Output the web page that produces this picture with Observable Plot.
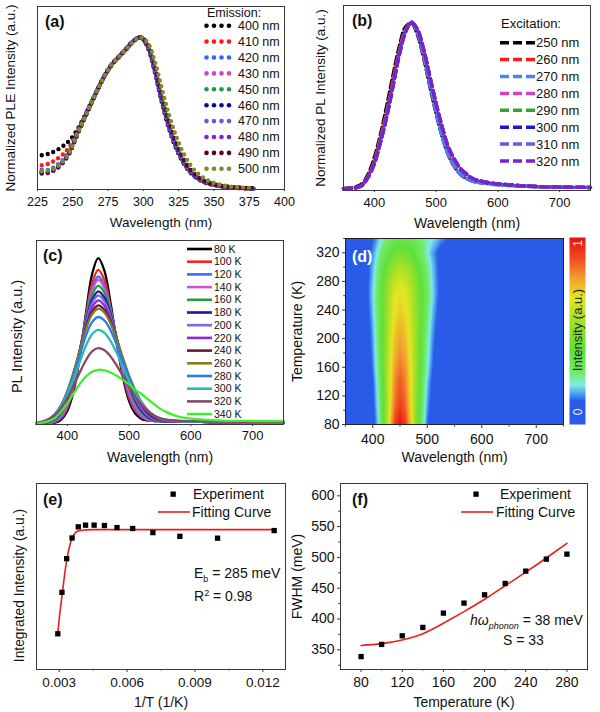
<!DOCTYPE html>
<html><head><meta charset="utf-8">
<script src="https://cdn.jsdelivr.net/npm/d3@7"></script>
<script src="https://cdn.jsdelivr.net/npm/@observablehq/plot@0.6"></script>
<style>
body{margin:0;background:#fff;}
#root{position:relative;width:600px;height:712px;overflow:hidden;background:#fff;}
.panel{position:absolute;}
.panel svg{overflow:visible;display:block;}
</style></head><body><div id="root"></div>
<script>
// ---------- (a) PLE spectra ----------
const pleWavelength = [228,233,238,243,248,253,258,263,268,273,278,283,288,293,298,303,308,313,318,323,328,333,338,343,348,353,358,363,368,373,378];
const pleLabels = ["400 nm","410 nm","420 nm","430 nm","450 nm","460 nm","470 nm","480 nm","490 nm","500 nm"];
const ple400 = [.22,.23,.25,.28,.32,.385,.47,.565,.66,.75,.82,.87,.92,.97,.995,.93,.77,.57,.40,.27,.175,.11,.068,.043,.028,.019,.012,.008,.005,.003,.001];
const ple410 = [.155,.165,.19,.225,.28,.37,.465,.56,.66,.75,.82,.87,.92,.97,.995,.935,.775,.575,.405,.275,.178,.113,.07,.045,.029,.02,.013,.008,.005,.003,.001];
const ple420 = [.125,.125,.15,.19,.255,.36,.46,.56,.66,.75,.82,.87,.92,.97,.995,.94,.785,.585,.415,.282,.183,.116,.073,.046,.03,.02,.013,.009,.005,.003,.001];
const ple430 = [.11,.11,.135,.175,.245,.355,.458,.56,.66,.75,.82,.87,.92,.97,.995,.94,.79,.59,.42,.285,.185,.118,.074,.047,.031,.021,.014,.009,.005,.003,.001];
const ple450 = [.115,.12,.14,.18,.25,.36,.46,.56,.66,.75,.82,.87,.92,.97,.995,.945,.80,.60,.43,.292,.19,.122,.077,.049,.032,.022,.014,.009,.006,.003,.001];
const ple460 = [.105,.11,.13,.175,.245,.355,.458,.56,.66,.75,.82,.87,.92,.97,.995,.94,.79,.59,.42,.285,.185,.118,.074,.047,.031,.021,.014,.009,.005,.003,.001];
const ple470 = [.10,.105,.13,.172,.24,.352,.456,.56,.66,.75,.82,.87,.92,.97,.995,.942,.795,.595,.425,.288,.187,.12,.075,.048,.031,.021,.014,.009,.005,.003,.001];
const ple480 = [.10,.105,.128,.17,.24,.352,.456,.56,.66,.75,.82,.87,.92,.97,.995,.942,.795,.598,.428,.29,.189,.121,.076,.048,.032,.021,.014,.009,.006,.003,.001];
const ple490 = [.105,.11,.13,.173,.243,.354,.457,.56,.66,.75,.82,.87,.92,.97,.995,.95,.81,.62,.45,.31,.205,.13,.082,.052,.034,.023,.015,.01,.007,.005,.004];
const ple500 = [.115,.12,.138,.178,.245,.355,.458,.56,.66,.75,.82,.87,.92,.968,.995,.96,.84,.66,.49,.35,.24,.16,.105,.07,.045,.03,.02,.013,.008,.005,.003];
const pleTicks = [225,250,275,300,325,350,375,400];

// ---------- (b) PL spectra vs excitation ----------
const plWavelength = [350,360,370,380,390,400,410,420,430,440,450,460,470,480,490,500,510,520,530,540,550,560,580,600,620,650,700,750];
const exLabels = ["250 nm","260 nm","270 nm","280 nm","290 nm","300 nm","310 nm","320 nm"];
const ex250 = [.002,.005,.012,.03,.09,.19,.33,.50,.68,.85,.97,.995,.92,.78,.61,.45,.31,.20,.13,.085,.06,.045,.033,.025,.02,.015,.01,.008];
const ex260 = [.001,.004,.009,.025,.08,.17,.31,.47,.65,.825,.955,1.0,.93,.79,.62,.46,.315,.205,.135,.09,.065,.048,.035,.027,.021,.015,.01,.008];
const ex270 = [.001,.003,.007,.022,.075,.16,.295,.45,.63,.81,.945,1.0,.935,.795,.625,.46,.31,.20,.13,.085,.06,.045,.032,.024,.019,.014,.01,.008];
const ex280 = [0,.003,.006,.02,.072,.155,.285,.44,.62,.80,.94,1.0,.952,.83,.668,.506,.364,.246,.172,.118,.085,.06,.04,.03,.024,.016,.01,.008];
const ex290 = [0,.003,.006,.02,.071,.152,.282,.435,.615,.798,.937,1.0,.954,.833,.671,.51,.367,.248,.174,.119,.086,.06,.04,.03,.024,.016,.01,.008];
const ex300 = [0,.003,.006,.021,.072,.153,.283,.436,.616,.80,.938,1.0,.953,.832,.67,.508,.365,.247,.173,.118,.085,.06,.04,.03,.024,.016,.01,.008];
const ex310 = [0,.003,.006,.02,.07,.151,.281,.432,.612,.797,.936,1.0,.955,.834,.673,.512,.369,.249,.175,.12,.087,.06,.04,.03,.024,.016,.01,.008];
const ex320 = [0,.003,.006,.02,.07,.15,.28,.43,.61,.795,.935,1.0,.955,.835,.674,.513,.37,.25,.175,.12,.087,.06,.04,.03,.024,.016,.01,.008];
const plTicks = [400,500,600,700];

// ---------- (c) temperature-dependent PL ----------
const tWavelength = [350,360,370,380,390,400,410,420,430,440,450,460,470,480,490,500,510,520,530,540,550,560,580,600,650,700,750];
const tempLabels = ["80 K","100 K","120 K","140 K","160 K","180 K","200 K","220 K","240 K","260 K","280 K","300 K","320 K","340 K"];
const temperatures = [80,100,120,140,160,180,200,220,240,260,280,300,320,340];
const pl80K  = [0,0,.002,.007,.026,.079,.197,.401,.666,.903,1.0,.924,.728,.49,.281,.137,.062,.03,.02,.017,.016,.015,.014,.013,.01,.008,.007];
const pl100K = [0,.001,.003,.011,.034,.095,.216,.409,.645,.849,.93,.867,.701,.492,.30,.159,.078,.039,.023,.018,.016,.015,.014,.013,.01,.008,.007];
const pl120K = [0,.001,.004,.014,.042,.107,.230,.416,.635,.818,.89,.834,.687,.498,.316,.176,.092,.045,.025,.018,.016,.015,.014,.013,.01,.008,.007];
const pl140K = [0,.002,.005,.018,.050,.119,.244,.426,.633,.804,.87,.819,.684,.505,.331,.193,.104,.052,.027,.019,.016,.015,.014,.013,.01,.008,.007];
const pl160K = [.001,.003,.009,.025,.064,.141,.267,.440,.628,.777,.835,.792,.676,.518,.357,.222,.128,.068,.036,.02,.016,.015,.014,.013,.01,.008,.007];
const pl180K = [.001,.004,.012,.031,.074,.153,.278,.442,.614,.749,.80,.762,.658,.515,.366,.236,.142,.08,.042,.023,.017,.015,.014,.013,.01,.008,.007];
const pl200K = [.001,.005,.015,.037,.083,.164,.288,.443,.605,.729,.775,.740,.646,.514,.374,.248,.154,.09,.049,.027,.018,.016,.014,.013,.01,.008,.007];
const pl220K = [.002,.007,.018,.043,.092,.174,.294,.441,.590,.703,.745,.714,.630,.512,.382,.262,.169,.102,.058,.033,.02,.017,.015,.013,.01,.008,.007];
const pl240K = [.003,.009,.023,.052,.104,.188,.305,.442,.578,.678,.715,.689,.614,.508,.390,.277,.186,.118,.07,.04,.025,.019,.015,.013,.01,.008,.007];
const pl260K = [.004,.012,.028,.060,.115,.199,.312,.443,.569,.661,.695,.671,.605,.508,.398,.291,.203,.132,.082,.049,.03,.022,.016,.014,.011,.009,.008];
const pl280K = [.004,.012,.028,.059,.111,.190,.295,.415,.531,.614,.645,.624,.564,.477,.377,.279,.197,.13,.082,.05,.031,.022,.016,.014,.011,.009,.008];
const pl300K = [.005,.013,.029,.058,.107,.177,.270,.373,.471,.541,.567,.549,.500,.427,.342,.257,.186,.127,.082,.052,.033,.024,.017,.015,.012,.01,.009];
const pl320K = [.006,.014,.029,.055,.096,.155,.229,.310,.384,.438,.457,.444,.407,.352,.287,.221,.165,.116,.078,.051,.034,.026,.019,.016,.013,.011,.01];
const pl340K = [.003,.008,.016,.035,.075,.125,.182,.24,.285,.314,.326,.323,.31,.29,.265,.238,.205,.18,.15,.12,.092,.072,.043,.031,.02,.017,.016];

// ---------- (d) map axes ----------
const mapTempTicks = [80,120,160,200,240,280,320];
const mapTempMinor = [100,140,180,220,260,300,340];
const mapWlMinor = [350,450,550,650,750];

// ---------- (e) integrated intensity ----------
const eTemps = [340,320,300,280,260,240,220,200,180,160,140,120,100,80];
const eIntensity = [0.192,0.415,0.596,0.707,0.767,0.776,0.776,0.774,0.763,0.758,0.736,0.716,0.706,0.747];
const eFitInvT = [0.00294,0.0030,0.0031,0.0032,0.0033,0.0034,0.0035,0.0036,0.0037,0.0038,0.0040,0.0045,0.0060,0.0125];
const eFitIntensity = [0.19,0.27,0.37,0.47,0.56,0.63,0.68,0.714,0.733,0.743,0.749,0.752,0.752,0.752];
const eTicks = [0.003,0.006,0.009,0.012];
const eMinor = [0.0045,0.0075,0.0105];

// ---------- (f) FWHM ----------
const fTemps = [80,100,120,140,160,180,200,220,240,260,280];
const fFWHM = [339,358.7,372.7,386.3,409.5,425.8,439.3,457.7,477.7,497.2,505.3];
const fFitT = [80,100,120,140,160,180,200,220,240,260,280];
const fFitFWHM = [357,360,366,376,393,412,432,454,476,499,523];
const fXTicks = [80,120,160,200,240,280];
const fXMinor = [100,140,180,220,260,300];
const fYTicks = [350,400,450,500,550,600];
const fYMinor = [325,375,425,475,525,575];

// ---------- styles ----------
const FONT = '"Liberation Sans", Arial, Helvetica, sans-serif';
const pleColors = ["#000000","#ff1a1a","#3366ff","#cc44cc","#229944","#0a0a9a","#6655dd","#7a22dd","#600020","#7f8a2a"];
const exColors = ["#000000","#ff1a1a","#4a80ff","#cc44cc","#2aaa2a","#1a1acc","#6a5add","#7a22cc"];
const tempColors = ["#000000","#ff2020","#3a6cf5","#cc55cc","#2a9a3a","#1a1a9a","#7a6ae8","#8a2ad8","#6a1838","#808020","#2a7af0","#30b8b0","#8a4868","#40ee30"];
const heatStops = [0, 0.125, 0.165, 0.21, 0.28, 0.4, 0.55, 0.68, 0.78, 0.88, 1];
const heatColors = ["#2a5ae8","#2a5ae8","#4aa2f2","#80eaea","#72ea62","#5ee03a","#a2e028","#e6e622","#f2a030","#f05020","#e81010"];
const FRAME = "#3a3a3a";

const root = document.getElementById("root");
function mount(svg, left, top) {
  const div = document.createElement("div");
  div.className = "panel";
  div.style.left = left + "px"; div.style.top = top + "px";
  div.appendChild(svg); root.appendChild(div);
  return d3.select(svg);
}
function txt(g, x, y, s, o = {}) {
  const t = g.append("text").attr("x", x).attr("y", y).attr("dy", "0.35em")
    .attr("font-family", FONT).attr("font-size", o.size || 13)
    .attr("fill", o.fill || "#111").attr("text-anchor", o.anchor || "start");
  if (o.weight) t.attr("font-weight", o.weight);
  if (o.rotate) t.attr("transform", `rotate(${o.rotate},${x},${y})`);
  if (s !== null) t.text(s);
  return t;
}
const base = {fontFamily: FONT, color: "#111", background: "transparent", overflow: "visible"};
function xAxis(major, minor, size, pad, fmt) {
  const m = [Plot.axisX(major, {tickSize: size, tickPadding: pad, label: null, stroke: FRAME, tickFormat: fmt})];
  if (minor.length) m.push(Plot.axisX(minor, {tickSize: Math.max(1.5, size - 1.5), tickFormat: () => "", label: null, stroke: FRAME}));
  return m;
}
function yAxis(major, minor) {
  return [
    Plot.axisY(major, {tickSize: 3, tickPadding: 3, label: null, stroke: FRAME}),
    Plot.axisY(minor, {tickSize: 1.8, tickFormat: () => "", label: null, stroke: FRAME})
  ];
}
function titleX(s, size) {
  return Plot.text([s], {text: d => d, frameAnchor: "bottom", dy: 33, fontSize: size, textAnchor: "middle", lineAnchor: "middle"});
}
function titleY(s, size, dx, dy = 0) {
  return Plot.text([s], {text: d => d, frameAnchor: "left", dx, dy, rotate: -90, fontSize: size, textAnchor: "middle", lineAnchor: "middle"});
}

// ===== Panel (a) =====
const pleSeries = [ple400,ple410,ple420,ple430,ple450,ple460,ple470,ple480,ple490,ple500];
const svgA = Plot.plot({
  width: 300, height: 235, marginLeft: 37, marginRight: 16, marginTop: 6, marginBottom: 46,
  style: {...base, fontSize: "12.5px"},
  x: {domain: [225, 400]}, y: {domain: [-0.005, 1.197], axis: null},
  marks: [
    ...pleSeries.map((vals, k) => Plot.line(pleWavelength.map((w, i) => ({w, v: vals[i]})), {x: "w", y: "v", stroke: pleColors[k], strokeWidth: 4.4, strokeLinecap: "round", strokeDasharray: "0,6", curve: "catmull-rom"})),
    Plot.frame({stroke: FRAME}),
    ...xAxis(pleTicks, [], 2, 5.5),
    titleX("Wavelength (nm)", 13.5),
    titleY("Normalized PLE Intensity (a.u.)", 13.5, -27)
  ]
});
const gA = mount(svgA, 0, 0).append("g");
txt(gA, 45, 21.5, "(a)", {size: 16, weight: "bold"});
txt(gA, 207, 12.7, "Emission:", {size: 12.5});
pleLabels.forEach((lab, i) => {
  const y = 25.7 + 15.9 * i;
  for (let k = 0; k < 4; k++) gA.append("circle").attr("cx", 206.5 + 7.5 * k).attr("cy", y).attr("r", 2.3).attr("fill", pleColors[i]);
  txt(gA, 238, y, lab, {size: 12.5});
});

// ===== Panel (b) =====
const exSeries = [ex250,ex260,ex270,ex280,ex290,ex300,ex310,ex320];
const svgB = Plot.plot({
  width: 300, height: 235, marginLeft: 43, marginRight: 10, marginTop: 5, marginBottom: 45,
  style: {...base, fontSize: "13px"},
  x: {domain: [350, 750]}, y: {domain: [-0.01, 1.1], axis: null},
  marks: [
    ...exSeries.map((vals, k) => Plot.line(plWavelength.map((w, i) => ({w, v: vals[i]})), {x: "w", y: "v", stroke: exColors[k], strokeWidth: 3.3, strokeDasharray: "8,4", curve: "catmull-rom"})),
    Plot.frame({stroke: FRAME}),
    ...xAxis(plTicks, [], 2, 5.5),
    titleX("Wavelength (nm)", 14),
    titleY("Normalized PL Intensity (a.u.)", 13.5, -23)
  ]
});
const gB = mount(svgB, 300, 0).append("g");
txt(gB, 52, 20.7, "(b)", {size: 16, weight: "bold"});
txt(gB, 201, 23.3, "Excitation:", {size: 13});
exLabels.forEach((lab, i) => {
  const y = 42.7 + 16.9 * i;
  gB.append("line").attr("x1", 200).attr("x2", 235).attr("y1", y).attr("y2", y)
    .attr("stroke", exColors[i]).attr("stroke-width", 3.5).attr("stroke-dasharray", "9,4");
  txt(gB, 236, y, lab, {size: 13});
});

// ===== Panel (c) =====
const tSeries = [pl80K,pl100K,pl120K,pl140K,pl160K,pl180K,pl200K,pl220K,pl240K,pl260K,pl280K,pl300K,pl320K,pl340K];
const svgC = Plot.plot({
  width: 300, height: 235, marginLeft: 36, marginRight: 17, marginTop: 5, marginBottom: 46,
  style: {...base, fontSize: "13px"},
  x: {domain: [350, 750]}, y: {domain: [-0.004, 1.107], axis: null},
  marks: [
    ...tSeries.map((vals, k) => Plot.line(tWavelength.map((w, i) => ({w, v: vals[i]})), {x: "w", y: "v", stroke: tempColors[k], strokeWidth: 2.3, curve: "catmull-rom"})),
    Plot.frame({stroke: FRAME}),
    ...xAxis(plTicks, [], 2, 4.5),
    titleX("Wavelength (nm)", 14),
    titleY("PL Intensity (a.u.)", 14.5, -19, 4)
  ]
});
const gC = mount(svgC, 0, 235).append("g");
txt(gC, 43, 20.7, "(c)", {size: 16, weight: "bold"});
tempLabels.forEach((lab, i) => {
  const y = 14 + 12.7 * i;
  gC.append("line").attr("x1", 187).attr("x2", 212).attr("y1", y).attr("y2", y).attr("stroke", tempColors[i]).attr("stroke-width", 2.6);
  txt(gC, 214, y, lab, {size: 10.5});
});

// ===== Panel (d) =====
const mapRows = [];
tSeries.forEach((vals, k) => tWavelength.forEach((w, i) => mapRows.push({w, T: temperatures[k], v: vals[i]})));
const heatScale = {type: "linear", domain: heatStops, range: heatColors, clamp: true};
const svgD = Plot.plot({
  width: 310, height: 235, marginLeft: 55, marginRight: 37, marginTop: 3, marginBottom: 46,
  style: {...base, fontSize: "14px"},
  x: {domain: [350, 750]}, y: {domain: [80, 340]},
  color: heatScale,
  marks: [
    Plot.raster(mapRows, {x: "w", y: "T", fill: "v", interpolate: "barycentric", x1: 350, x2: 750, y1: 80, y2: 340}),
    Plot.frame({stroke: "#222"}),
    ...xAxis(plTicks, mapWlMinor, 4, 5.5),
    ...yAxis(mapTempTicks, mapTempMinor),
    titleX("Wavelength (nm)", 14),
    titleY("Temperature (K)", 14, -48)
  ]
});
const gD = mount(svgD, 290, 235).append("g");
txt(gD, 62, 21, "(d)", {size: 16, weight: "bold", fill: "#fff"});

// colour bar
const svgBar = Plot.plot({
  width: 16, height: 187, margin: 0,
  style: {...base},
  x: {domain: [0, 1], axis: null}, y: {domain: [0, 1], axis: null},
  color: heatScale,
  marks: [Plot.raster({fill: (x, y) => y, x1: 0, x2: 1, y1: 0, y2: 1})]
});
const gBar = mount(svgBar, 569, 237).append("g");
txt(gBar, 8.5, 93, "Intensity (a.u.)", {size: 13, anchor: "middle", rotate: -90, fill: "#1c2a1c"});
txt(gBar, 8.5, 6.5, "1", {size: 12, anchor: "middle", rotate: -90, fill: "#f6eeee"});
txt(gBar, 8.5, 175, "0", {size: 12, anchor: "middle", rotate: -90, fill: "#f2f2f2"});

// ===== Panel (e) =====
const eRows = eTemps.map((T, i) => ({x: 1 / T, y: eIntensity[i]}));
const eFitRows = eFitInvT.map((x, i) => ({x, y: eFitIntensity[i]}));
const svgE = Plot.plot({
  width: 300, height: 242, marginLeft: 36, marginRight: 15, marginTop: 13, marginBottom: 43,
  style: {...base, fontSize: "13.5px"},
  x: {domain: [0.002, 0.013]}, y: {domain: [0, 1], axis: null},
  marks: [
    Plot.line(eFitRows, {x: "x", y: "y", stroke: "#e8201c", strokeWidth: 1.6, curve: "monotone-x"}),
    Plot.dot(eRows, {x: "x", y: "y", symbol: "square", r: 3, fill: "#000"}),
    Plot.frame({stroke: FRAME}),
    ...xAxis(eTicks, eMinor, 3, 4.5, d => d.toFixed(3)),
    titleX("1/T (1/K)", 14),
    titleY("Integrated Intensity (a.u.)", 13.8, -16.5, 9)
  ]
});
const gE = mount(svgE, 0, 470).append("g");
txt(gE, 43, 29, "(e)", {size: 16, weight: "bold"});
gE.append("rect").attr("x", 170.5).attr("y", 21.5).attr("width", 5.3).attr("height", 5.3).attr("fill", "#000");
txt(gE, 193, 24, "Experiment", {size: 14});
gE.append("line").attr("x1", 158).attr("x2", 190).attr("y1", 42).attr("y2", 42).attr("stroke", "#e8201c").attr("stroke-width", 1.6);
txt(gE, 192, 42, "Fitting Curve", {size: 14});
{
  const t = txt(gE, 194, 103, null, {size: 14});
  t.append("tspan").text("E");
  t.append("tspan").attr("font-size", 9).attr("dy", 4).text("b");
  t.append("tspan").attr("dy", -4).text(" = 285 meV");
  const r = txt(gE, 194, 126, null, {size: 14});
  r.append("tspan").text("R");
  r.append("tspan").attr("font-size", 9).attr("dy", -5).text("2");
  r.append("tspan").attr("dy", 5).text(" = 0.98");
}

// ===== Panel (f) =====
const fRows = fTemps.map((T, i) => ({x: T, y: fFWHM[i]}));
const fFitRows = fFitT.map((T, i) => ({x: T, y: fFitFWHM[i]}));
const svgF = Plot.plot({
  width: 315, height: 242, marginLeft: 55, marginRight: 13, marginTop: 13, marginBottom: 43,
  style: {...base, fontSize: "14px"},
  x: {domain: [60, 300]}, y: {domain: [318, 620]},
  marks: [
    Plot.line(fFitRows, {x: "x", y: "y", stroke: "#e8201c", strokeWidth: 1.6, curve: "natural"}),
    Plot.dot(fRows, {x: "x", y: "y", symbol: "square", r: 3, fill: "#000"}),
    Plot.frame({stroke: FRAME}),
    ...xAxis(fXTicks, fXMinor, 3, 4.5),
    ...yAxis(fYTicks, fYMinor),
    titleX("Temperature (K)", 14),
    titleY("FWHM (meV)", 14, -43)
  ]
});
const gF = mount(svgF, 285, 470).append("g");
txt(gF, 67, 29, "(f)", {size: 16, weight: "bold"});
gF.append("rect").attr("x", 188.4).attr("y", 21.5).attr("width", 5.3).attr("height", 5.3).attr("fill", "#000");
txt(gF, 215, 24, "Experiment", {size: 14});
gF.append("line").attr("x1", 176).attr("x2", 208).attr("y1", 42).attr("y2", 42).attr("stroke", "#e8201c").attr("stroke-width", 1.6);
txt(gF, 211, 42, "Fitting Curve", {size: 14});
{
  const t = txt(gF, 185, 150, null, {size: 14});
  t.append("tspan").attr("font-style", "italic").text("hω");
  t.append("tspan").attr("font-size", 9).attr("font-style", "italic").attr("dy", 4).text("phonon");
  t.append("tspan").attr("dy", -4).text(" = 38 meV");
  txt(gF, 218, 170, "S = 33", {size: 14});
}
</script></body></html>
